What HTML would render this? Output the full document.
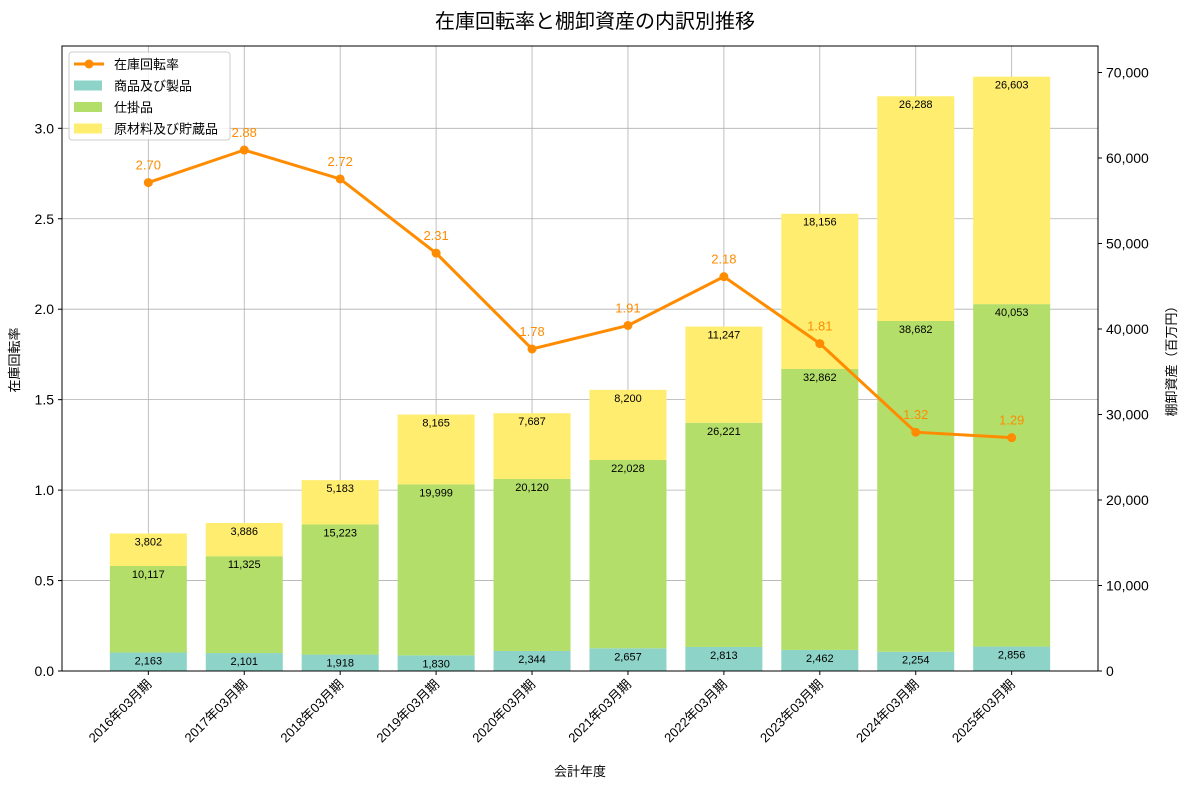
<!DOCTYPE html>
<html><head><meta charset="utf-8"><style>
body{margin:0;background:#fff;}
svg text{font-family:"Liberation Sans","Noto Sans CJK JP",sans-serif;}
</style></head><body>
<svg id="c" width="1189" height="789" xmlns="http://www.w3.org/2000/svg">
<text x="595" y="28" text-anchor="middle" font-size="20" fill="#000">在庫回転率と棚卸資産の内訳別推移</text>
<g id="grid"></g><g id="bars"></g><g id="line"></g><g id="axes"></g>
</svg>
<script>
const categories=["2016年03月期","2017年03月期","2018年03月期","2019年03月期","2020年03月期","2021年03月期","2022年03月期","2023年03月期","2024年03月期","2025年03月期"];
const products=[2163,2101,1918,1830,2344,2657,2813,2462,2254,2856];
const wip=[10117,11325,15223,19999,20120,22028,26221,32862,38682,40053];
const materials=[3802,3886,5183,8165,7687,8200,11247,18156,26288,26603];
const turnover=[2.70,2.88,2.72,2.31,1.78,1.91,2.18,1.81,1.32,1.29];
const leftTicks=[0,0.5,1.0,1.5,2.0,2.5,3.0];
const rightTicks=[0,10000,20000,30000,40000,50000,60000,70000];

const L=62,R=1098,T=46,B=671;
const xs=i=>L+(i+0.9)*(R-L)/10.8;
const yl=v=>B-v*(B-T)/3.455;
const yr=v=>B-v*(B-T)/73100;
const NS="http://www.w3.org/2000/svg";
function mk(p,tag,a,txt){const e=document.createElementNS(NS,tag);for(const k in a)e.setAttribute(k,a[k]);if(txt!==undefined)e.textContent=txt;document.getElementById(p).appendChild(e);return e;}
const fmt=v=>v.toLocaleString('en-US');

// grid
categories.forEach((c,i)=>{const g=mk('grid','line',{x1:xs(i),x2:xs(i),y1:T,y2:B,stroke:'#b0b0b0','stroke-width':0.8});

});
leftTicks.forEach(v=>{const g=mk('grid','line',{x1:L,x2:R,y1:yl(v),y2:yl(v),stroke:'#b0b0b0','stroke-width':0.8});

});

// bars
const bw=77;
const series=[[products,'#8dd3c7','products'],[wip,'#b3de69','wip'],[materials,'#ffed6f','materials']];
categories.forEach((c,i)=>{let base=0;
series.forEach(([arr,col,nm])=>{const v=arr[i];
const r=mk('bars','rect',{x:xs(i)-bw/2,y:yr(base+v),width:bw,height:yr(base)-yr(base+v),fill:col});


const t=mk('bars','text',{x:xs(i),y:yr(base+v)+12,'text-anchor':'middle','font-size':11,fill:'#000'},fmt(v));


base+=v;});});

// line
const pts=turnover.map((v,i)=>xs(i)+','+yl(v)).join(' ');
const pl=mk('line','polyline',{points:pts,fill:'none',stroke:'#ff8c00','stroke-width':3});


turnover.forEach((v,i)=>{const c=mk('line','circle',{cx:xs(i),cy:yl(v),r:4.5,fill:'#ff8c00'});


const t=mk('line','text',{x:xs(i),y:yl(v)-13,'text-anchor':'middle','font-size':13,fill:'#ff8c00'},v.toFixed(2));

});

// axes
const fr=mk('axes','rect',{x:L,y:T,width:R-L,height:B-T,fill:'none',stroke:'#000','stroke-width':1});


leftTicks.forEach(v=>{mk('axes','line',{x1:L-4,x2:L,y1:yl(v),y2:yl(v),stroke:'#000'});
const t=mk('axes','text',{x:L-8,y:yl(v)+5,'text-anchor':'end','font-size':14},v.toFixed(1));

});
rightTicks.forEach(v=>{mk('axes','line',{x1:R,x2:R+4,y1:yr(v),y2:yr(v),stroke:'#000'});
const t=mk('axes','text',{x:R+8,y:yr(v)+5,'font-size':14},fmt(v));

});
categories.forEach((c,i)=>{mk('axes','line',{x1:xs(i),x2:xs(i),y1:B,y2:B+4,stroke:'#000'});
const t=mk('axes','text',{x:xs(i)+4,y:B+14,'text-anchor':'end','font-size':13,transform:`rotate(-45 ${xs(i)+4} ${B+14})`},c);

});
let t;
t=mk('axes','text',{x:580,y:776,'text-anchor':'middle','font-size':13},'会計年度');


t=mk('axes','text',{x:19,y:360,'text-anchor':'middle','font-size':13,transform:'rotate(-90 19 360)'},'在庫回転率');


t=mk('axes','text',{x:1176,y:358,'text-anchor':'middle','font-size':13,transform:'rotate(-90 1176 358)'},'棚卸資産（百万円）');



// legend
const lg=mk('axes','rect',{x:69,y:52,width:161,height:88,rx:3,fill:'#fff','fill-opacity':0.85,stroke:'#ccc'});


mk('axes','line',{x1:74,x2:104,y1:64,y2:64,stroke:'#ff8c00','stroke-width':3});
mk('axes','circle',{cx:89,cy:64,r:4.5,fill:'#ff8c00'});
const items=[['在庫回転率',null],['商品及び製品','#8dd3c7'],['仕掛品','#b3de69'],['原材料及び貯蔵品','#ffed6f']];
items.forEach(([n,col],k)=>{const y=64+k*21.5;
if(col)mk('axes','rect',{x:74,y:y-5,width:28,height:10,fill:col});
const e=mk('axes','text',{x:114,y:y+5,'font-size':13},n);

});
</script>
</body></html>
